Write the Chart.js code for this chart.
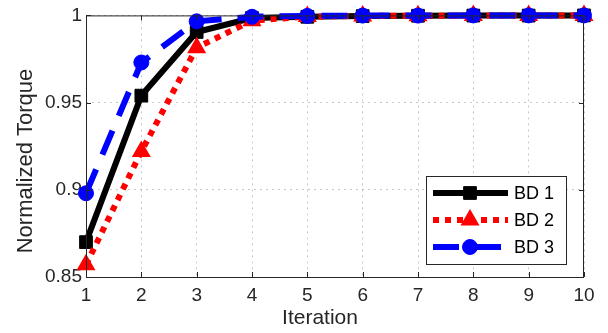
<!DOCTYPE html>
<html>
<head>
<meta charset="utf-8">
<script src="https://cdn.jsdelivr.net/npm/chart.js@4"></script>
<style>
html,body{margin:0;padding:0;background:#fff;}
#wrap{width:608px;height:333px;}
</style>
</head>
<body>
<div id="wrap"><canvas id="canvas" width="608" height="333"></canvas></div>
<script>
const iterations=[1,2,3,4,5,6,7,8,9,10];
const bd1=[0.870,0.954,0.9905,0.9985,0.9992,0.9996,0.9998,0.9999,0.9999,1.0];
const bd2=[0.857,0.922,0.9815,0.997,0.9993,0.9997,0.9998,0.9999,1.0,1.0];
const bd3=[0.898,0.973,0.9966,0.9992,0.9997,0.9999,0.9999,1.0,1.0,1.0];
const yTicks=[0.85,0.9,0.95,1];
const seriesNames=["BD 1","BD 2","BD 3"];
const axisColor="#262626";
const fontName="'Liberation Sans', Arial, sans-serif";

// box, inward ticks, axis titles and legend inside the plot
const decor={
    id:"decor",
    afterDatasetsDraw(chart){
        const ctx=chart.ctx;
        const a=chart.chartArea;
        const xs=chart.scales.x;
        const ys=chart.scales.y;
        ctx.save();
        ctx.strokeStyle=axisColor;
        ctx.lineWidth=1;
        ctx.strokeRect(a.left+0.5,a.top+0.5,a.right-a.left-1,a.bottom-a.top);
        ctx.beginPath();
        iterations.forEach((v,i)=>{
            const px=Math.round(xs.getPixelForValue(i))+0.5;
            ctx.moveTo(px,a.bottom);ctx.lineTo(px,a.bottom-5);
            ctx.moveTo(px,a.top);ctx.lineTo(px,a.top+5);
        });
        yTicks.forEach(v=>{
            const py=Math.round(ys.getPixelForValue(v))+0.5;
            ctx.moveTo(a.left,py);ctx.lineTo(a.left+5,py);
            ctx.moveTo(a.right,py);ctx.lineTo(a.right-5,py);
        });
        ctx.stroke();

        ctx.fillStyle=axisColor;
        ctx.textAlign="center";
        ctx.textBaseline="middle";
        ctx.font="21px "+fontName;
        ctx.fillText("Iteration",320,318);
        ctx.save();
        ctx.translate(26,161);
        ctx.rotate(-Math.PI/2);
        ctx.font="22px "+fontName;
        ctx.fillText("Normalized Torque",0,0);
        ctx.restore();

        // legend
        const lx=426,ly=176,lw=140,lh=88;
        ctx.fillStyle="#fff";
        ctx.fillRect(lx,ly,lw,lh);
        ctx.strokeStyle=axisColor;
        ctx.strokeRect(lx+0.5,ly+0.5,lw,lh);
        const rows=[193,220,247];
        chart.data.datasets.forEach((ds,i)=>{
            const y=rows[i];
            ctx.save();
            ctx.strokeStyle=ds.borderColor;
            ctx.lineWidth=ds.borderWidth;
            ctx.setLineDash(ds.borderDash||[]);
            ctx.beginPath();
            ctx.moveTo(433,y);ctx.lineTo(508,y);
            ctx.stroke();
            ctx.setLineDash([]);
            ctx.fillStyle=ds.pointBackgroundColor;
            ctx.strokeStyle=ds.pointBorderColor;
            ctx.lineWidth=ds.pointBorderWidth;
            Chart.helpers.drawPoint(ctx,{pointStyle:ds.pointStyle,rotation:0,radius:ds.pointRadius,borderWidth:ds.pointBorderWidth},470,y);
            ctx.restore();
            ctx.fillStyle="#000";
            ctx.textAlign="left";
            ctx.textBaseline="middle";
            ctx.font="18px "+fontName;
            ctx.fillText(seriesNames[i],514,y+1);
        });
        ctx.restore();
    }
};

new Chart(document.getElementById("canvas"),{
    type:"line",
    data:{
        labels:iterations,
        datasets:[
            {label:seriesNames[0],data:bd1,borderColor:"#000",borderWidth:6,pointStyle:"rect",pointRadius:9,
             pointBackgroundColor:"#000",pointBorderColor:"#000",pointBorderWidth:1,order:3,tension:0},
            {label:seriesNames[1],data:bd2,borderColor:"#ff0000",borderWidth:6,borderDash:[6,6],pointStyle:"triangle",pointRadius:9,
             pointBackgroundColor:"#ff0000",pointBorderColor:"#ff0000",pointBorderWidth:2,order:2,tension:0},
            {label:seriesNames[2],data:bd3,borderColor:"#0000ff",borderWidth:6,borderDash:[26,16],pointStyle:"circle",pointRadius:7.5,
             pointBackgroundColor:"#0000ff",pointBorderColor:"#0000ff",pointBorderWidth:1,order:1,tension:0}
        ]
    },
    plugins:[decor],
    options:{
        responsive:false,
        animation:false,
        clip:false,
        layout:{padding:{left:0,right:24,top:15,bottom:0}},
        plugins:{legend:{display:false},tooltip:{enabled:false}},
        scales:{
            x:{
                type:"category",
                offset:false,
                grid:{color:"rgba(0,0,0,0.22)",lineWidth:1,drawTicks:false},
                border:{display:false,dash:[2,4]},
                ticks:{color:axisColor,font:{family:fontName,size:19},padding:7,maxRotation:0},
                afterFit(s){s.height=56;}
            },
            y:{
                min:0.85,max:1,
                afterBuildTicks(s){s.ticks=yTicks.map(v=>({value:v}));},
                grid:{color:"rgba(0,0,0,0.22)",lineWidth:1,drawTicks:false},
                border:{display:false,dash:[2,4]},
                ticks:{color:axisColor,font:{family:fontName,size:19},padding:4,
                    callback:v=>String(v)},
                afterFit(s){s.width=86;}
            }
        }
    }
});
</script>
</body>
</html>
